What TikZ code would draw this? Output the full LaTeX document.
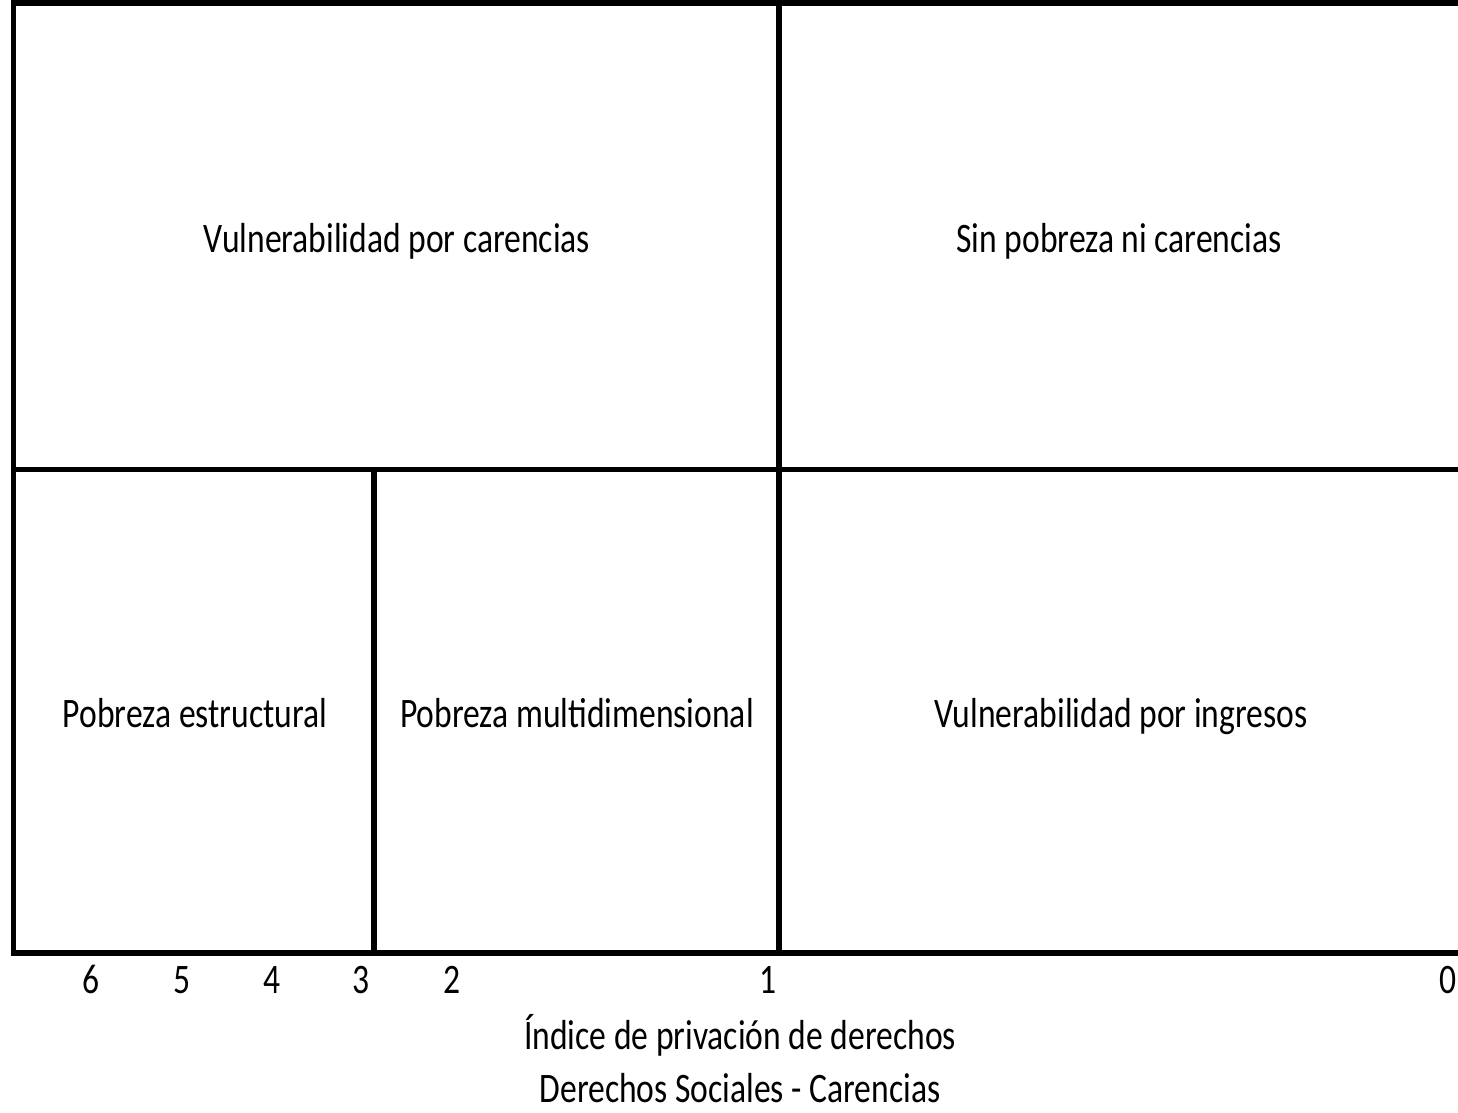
\documentclass[tikz,border=0pt]{standalone}
\usepackage{fontspec}
\setmainfont{Carlito}
\usetikzlibrary{calc}
\newcommand{\narrowtxt}[1]{\scalebox{0.8}[1]{#1}}
\begin{document}
\begin{tikzpicture}[x=1pt,y=-1pt,
  frame/.style={line width=5.5pt,black},
  lbl/.style={font=\fontsize{42}{50}\selectfont,inner sep=0pt,anchor=base}]
\useasboundingbox (0,0) rectangle (1458,1112);
\begin{scope}
\clip (0,0) rectangle (1458,1112);
\coordinate (tl) at (13.5,3);
\coordinate (tr) at (1470,3);
\coordinate (ml) at (13.5,469.5);
\coordinate (mr) at (1470,469.5);
\coordinate (bl) at (13.5,953);
\coordinate (br) at (1470,953);
\coordinate (vt) at (779,3);
\coordinate (vb) at (779,953);
\coordinate (st) at (374,469.5);
\coordinate (sb) at (374,953);
\draw[frame] (tl) -- (tr);
\draw[frame] (ml) -- (mr);
\draw[frame] (bl) -- (br);
\draw[frame,line cap=rect] (tl) -- (bl);
\draw[frame] (vt) -- (vb);
\draw[frame] (st) -- (sb);
\end{scope}
\node[lbl] (vc) at (397,252) {\narrowtxt{Vulnerabilidad por carencias}};
\node[lbl] (sp) at (1119,252) {\narrowtxt{Sin pobreza ni carencias}};
\node[lbl] (pe) at (195,727) {\narrowtxt{Pobreza estructural}};
\node[lbl] (pm) at (577,727) {\narrowtxt{Pobreza multidimensional}};
\node[lbl] (vi) at (1121,727) {\narrowtxt{Vulnerabilidad por ingresos}};
\node[lbl] (t6) at (91,993) {\narrowtxt{6}};
\node[lbl] (t5) at (182,993) {\narrowtxt{5}};
\node[lbl] (t4) at (272.5,993) {\narrowtxt{4}};
\node[lbl] (t3) at (361,993) {\narrowtxt{3}};
\node[lbl] (t2) at (452,993) {\narrowtxt{2}};
\node[lbl] (t1) at (768,993) {\narrowtxt{1}};
\node[lbl] (t0) at (1448,993) {\narrowtxt{0}};
\node[lbl] (ax1) at (740,1049) {\narrowtxt{Índice de privación de derechos}};
\node[lbl] (ax2) at (740,1102) {\narrowtxt{Derechos Sociales - Carencias}};
\end{tikzpicture}
\end{document}
